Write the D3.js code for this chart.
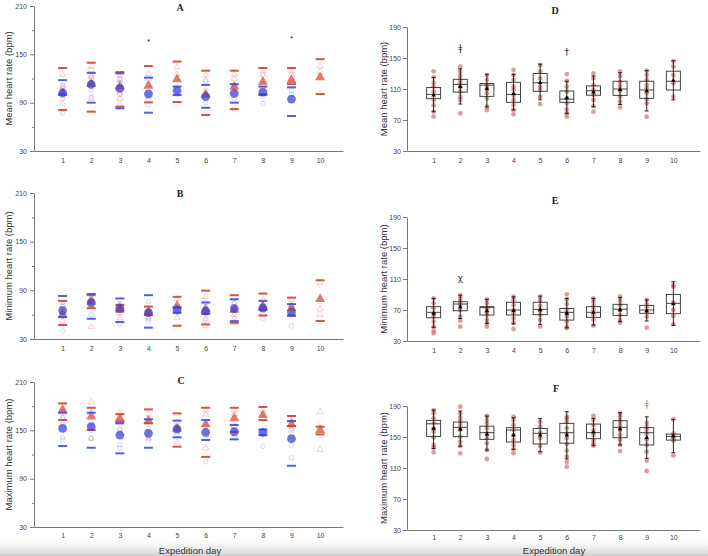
<!DOCTYPE html>
<html>
<head>
<meta charset="utf-8">
<script src="https://cdn.jsdelivr.net/npm/d3@7"></script>
<style>
body{margin:0;background:#fff;}
svg{display:block;font-family:"Liberation Sans",Arial,sans-serif;}
.axis text{font-size:7px;fill:#444;}
.axis path,.axis line{stroke:#555;stroke-width:0.8;}
.ylab{font-size:9.5px;fill:#333;}
.ttl{font-family:"Liberation Serif","Times New Roman",serif;font-weight:bold;font-size:10px;fill:#222;}
</style>
</head>
<body>
<svg id="chart" width="708" height="556"></svg>
<script>
// ---- data ----
const days = [1,2,3,4,5,6,7,8,9,10];
const leftTicks = [30, 90, 150, 210];
const leftMinor = [60, 120, 180];
const rightTicks = [30, 70, 110, 150, 190];

// A: mean heart rate, two groups
const aBlueMean = [102, 112.8, 107.8, 101, 104.8, 97.4, 101.6, 103, 94.5, null];
const aBlueHi   = [118, 127, 126.4, 121, 110, 112, 113, 110, 109, null];
const aBlueLo   = [100, 90, 83, 77.6, 99.5, 83.7, 90, 100, 73.4, null];
const aRedMean  = [102, 113, 110, 111, 119, 100, 110, 116, 118, 121.5];
const aRedHi    = [133, 139.6, 128, 135.5, 141, 129.7, 129.7, 133, 133, 144];
const aRedLo    = [81, 78.8, 85, 90.4, 90.8, 74.7, 82, 100, 113, 100.7];
const aBluePts  = [[77,95,108,112],[97,105,120,124],[88,100,115,120],[87,94,113],[100,108],[90,105,116],[82,95,108],[89,98,107],[100,105],[]];
const aRedPts   = [[89,110,125],[95,122,131,135],[95,102,118,124],[98,120,126],[125,134],[100,118,124],[110,120,125],[112,125,129],[120,125,129],[128,135]];
const aStars    = [[4,166],[9,170]];

// B: minimum heart rate
const bBlueMean = [65, 74.8, 67.8, 62.4, 65.8, 64.5, 67.4, 68.2, 63.3, null];
const bBlueHi   = [83, 85.5, 80, 84, 69, 75, 79, 77, 73, null];
const bBlueLo   = [57, 55, 51, 44, 62.4, 61, 52, 65.8, 58.8, null];
const bRedMean  = [60.5, 76, 68, 63, 71, 66, 66, 70, 68, 79.3];
const bRedHi    = [77, 84, 72, 70, 82, 89.6, 84, 86, 81, 102.4];
const bRedLo    = [47.3, 68, 63.7, 59.6, 46.4, 48, 50, 59, 58.8, 52.2];
const bBluePts  = [[40,58,70,75],[60,70,80],[48,65,74],[52,55,76],[63,68],[55,70,75],[55,62,75],[55,72],[46,60,70],[]];
const bRedPts   = [[52,58,72],[45,72,80],[56,62,72],[57,64,67],[56,79],[46,53,82],[50,60,74],[62,72,78],[62,72,78],[60,67,99]];

// C: maximum heart rate
const cBlueMean = [152.5, 154.5, 144, 146.3, 151.6, 147.5, 148, 147.5, 139.6, null];
const cBlueHi   = [171.9, 171.9, 158.7, 163.7, 162, 162.8, 156.6, 151, 161.6, null];
const cBlueLo   = [130.5, 128.4, 121.4, 128.4, 141.3, 138, 138.8, 144, 106, null];
const cRedMean  = [175, 167, 165, 161.6, 152, 157.5, 165, 169, 157.5, 150.4];
const cRedHi    = [183.5, 178, 170, 176, 171, 178, 178, 179, 167.8, 154.5];
const cRedLo    = [162.8, 150.4, 160.7, 158.7, 129.7, 117, 148, 162.8, 155.4, 145];
const cBluePts  = [[138,141,158,166],[140,150,160],[128,132,150,152],[138,142,152],[145,155],[111,140,155],[142,150,155],[130,148],[116,131,152],[]];
const cRedPts   = [[165,172,178],[140,172,185],[160,172],[140,165,170],[135,160],[128,170,175],[155,170,175],[165,175],[150,162],[126,173]];

// D: mean heart rate, box plots
const dQ1   = [97.5, 106, 100.5, 92.8, 107, 92.8, 102, 101.8, 98, 108.7];
const dMed  = [103, 116, 115, 103, 118, 97, 107.8, 110, 108.7, 120];
const dQ3   = [112, 122.5, 117, 118.6, 130, 107.4, 114, 120, 120, 133];
const dWlo  = [80.7, 90.6, 87, 83, 96, 78.6, 87, 90, 81.6, 96];
const dWhi  = [125, 136, 129, 129, 142, 120, 126.8, 131, 133.6, 146.5];
const dMean = [102, 113, 110, 104, 118, 98.5, 106, 109, 107.6, 121];
const dDots = [
  [132.8,125,118.2,113,106.5,95.8,89,80.7,74.3],
  [138.8,132.3,126.8,121.6,117.3,112.1,106.5,100.1,95.8,78.6],
  [128,121.6,115.1,110.8,104.4,97.9,87.2,82.9],
  [134.5,128,121.6,113,108.7,102.2,95.8,89.3,82.9,77.3],
  [141,132.3,123.7,113,108.7,100.1,90.6],
  [129.3,120.3,113,106.5,97.9,91.5,83.8,78.6,74.3],
  [130.2,123.7,115.1,108.7,102.2,95.8,88,80.7],
  [132.8,126.8,119.4,113.8,107.8,100.1,93.6,86.3],
  [133.6,128,121.6,115.1,110.8,104.4,97.1,91.5,74.3],
  [145.5,139,128,117.3,100.1]
];
const dMarks = [[2,163,"ǂ"],[6,158,"†"]];

// E: minimum heart rate, box plots
const eQ1   = [60, 69, 63.5, 63.5, 64, 57, 60.5, 63, 65.7, 65.3];
const eMed  = [67, 77.7, 73, 70, 70.9, 67, 67, 71, 70, 78.6];
const eQ3   = [74.3, 80.7, 74.3, 80, 80, 72, 74.3, 77.3, 76, 90];
const eWlo  = [47.6, 59, 52.8, 52, 51.5, 47, 50.6, 55, 55.8, 50];
const eWhi  = [85, 89, 83.8, 87, 88, 85, 85, 86.3, 83, 106.5];
const eMean = [65.7, 74, 68.7, 69, 70, 65.7, 67, 70, 68.7, 77.7];
const eDots = [
  [85,78.6,72.1,65.7,61.4,54.9,48.5,43.3,39.9],
  [89.3,85,80.7,76.4,70,61.4,56.2,48.5],
  [83.8,78.6,72.1,67.8,63.5,57.1,52.8,48.5],
  [87.2,82.9,76.4,70,65.7,59.2,53.7,45.5],
  [87.2,82,75.2,69.1,63.5,57.1,48.5],
  [90.2,83.8,77.7,70.9,65.7,61.4,54.9,48.5,46.3],
  [85,80.7,75.2,70,63.5,57.1,49.8],
  [87.2,82,76.4,70,63.5,57.1,53.7],
  [82.9,77.7,73.4,67.8,61.4,47.2],
  [102.2,100.1,79.5,70,62.3,51.9]
];
const eMarks = [[2,111,"χ"]];

// F: maximum heart rate, box plots
const fQ1   = [150.8, 150.4, 147, 143.5, 141, 142, 147.8, 149, 139.7, 146];
const fMed  = [167, 162.4, 155.6, 159, 154.7, 155.6, 155.6, 162.4, 155.6, 150.8];
const fQ3   = [171.5, 169.3, 164, 162, 161, 167.6, 166.7, 171, 162, 153.8];
const fWlo  = [135, 138, 133, 134, 131, 121.6, 138.8, 139.7, 122.5, 129.8];
const fWhi  = [184.8, 183.5, 177, 175, 174, 182.6, 174, 181.4, 176, 172.8];
const fMean = [161, 160, 153.4, 152.5, 152.5, 152.5, 156.4, 160.3, 149, 151];
const fDots = [
  [184.8,180.5,174.1,167.6,161.2,156.9,149.5,139.7,136.6,130.2],
  [189.1,180.5,175.3,170.6,165.5,159,150.4,144,138.4,128.9],
  [177.1,171.9,167.6,161.2,154.7,148.3,141.8,133.2,121.6],
  [176.2,171.9,165.5,159,152.6,146.1,139.7,134.1,128.9],
  [169.8,163.3,155.6,148.3,138.4,129.8],
  [176.2,174.1,169.8,161.2,154.7,148.3,140.9,132.3,124.6,117.7,111.7],
  [177.1,171.9,165.5,159,152.6,146.1,141.8,138.8],
  [180.5,176.2,171,165.5,159,152.6,146.1,139.7,131.9],
  [168.5,163.3,159,153.8,146.9,139.7,131,119.4,106.1],
  [172.8,154.7,151.3,148.3,145.2,126.3]
];
const fMarks = [[9,192,"ǂ"]];

// ---- drawing ----
const svg = d3.select("#chart");
const BLUE = "#3b4fe6", RED = "#d4402e";

const grad = svg.append("defs").append("linearGradient")
  .attr("id","shade").attr("x1",0).attr("y1",0).attr("x2",0).attr("y2",1);
grad.append("stop").attr("offset","0%").attr("stop-color","#fff").attr("stop-opacity",0);
grad.append("stop").attr("offset","100%").attr("stop-color","#cfcfcf").attr("stop-opacity",1);
svg.append("rect").attr("x",0).attr("y",536).attr("width",708).attr("height",20).attr("fill","url(#shade)");

function frame(o, x, y, ticks, minor, padY){
  const g = svg.append("g");
  if (minor) {
    g.append("g").attr("class","axis").attr("transform",`translate(${o.left},0)`)
      .call(d3.axisLeft(y).tickValues(minor).tickSize(2).tickFormat(""))
      .select(".domain").remove();
  }
  g.append("g").attr("class","axis").attr("transform",`translate(${o.left},0)`)
    .call(d3.axisLeft(y).tickValues(ticks).tickSize(4).tickSizeOuter(0).tickPadding(padY));
  g.append("g").attr("class","axis").attr("transform",`translate(0,${o.bottom})`)
    .call(d3.axisBottom(x).tickValues(days).tickSize(0).tickSizeOuter(0).tickPadding(o.padX || 7));
  svg.append("text").attr("class","ttl").attr("x",o.titleX).attr("y",o.titleY)
    .attr("text-anchor","middle").text(o.title);
  svg.append("text").attr("class","ylab")
    .attr("transform",`translate(${o.labX},${(o.top+o.bottom)/2}) rotate(-90)`)
    .attr("text-anchor","middle").text(o.label);
  if (o.xlab) {
    svg.append("text").attr("x",o.xlabX).attr("y",553.5).attr("text-anchor","middle")
      .attr("font-size","9.5px").attr("fill","#333").text("Expedition day");
  }
  return g;
}

function drawLeft(o){
  const x = d3.scaleLinear().domain([0,10.8]).range([34,343]);
  const y = d3.scaleLinear().domain([30,210]).range([o.bottom,o.top]);
  o.left = 34;
  const g = frame(o, x, y, leftTicks, leftMinor, 3);
  const tri = d3.symbol().type(d3.symbolTriangle);

  days.forEach((d,i)=>{
    // individual points
    o.bluePts[i].forEach(v=>{
      g.append("circle").attr("cx",x(d)).attr("cy",y(v)).attr("r",2.3)
        .attr("fill","none").attr("stroke",BLUE).attr("stroke-opacity",0.28).attr("stroke-width",0.8);
    });
    o.redPts[i].forEach(v=>{
      g.append("path").attr("d",tri.size(16)()).attr("transform",`translate(${x(d)},${y(v)})`)
        .attr("fill","none").attr("stroke",RED).attr("stroke-opacity",0.3).attr("stroke-width",0.8);
    });
    // red group
    [o.redHi[i], o.redLo[i]].forEach(v=>{
      g.append("rect").attr("x",x(d)-4.5).attr("y",y(v)-1).attr("width",9).attr("height",2)
        .attr("fill",RED).attr("fill-opacity",0.9);
    });
    g.append("path").attr("d",tri.size(44)()).attr("transform",`translate(${x(d)},${y(o.redMean[i])})`)
      .attr("fill",RED).attr("fill-opacity",0.7);
    // blue group
    if (o.blueMean[i] != null) {
      [o.blueHi[i], o.blueLo[i]].forEach(v=>{
        g.append("rect").attr("x",x(d)-4.5).attr("y",y(v)-1).attr("width",9).attr("height",2)
          .attr("fill",BLUE).attr("fill-opacity",0.9);
      });
      g.append("circle").attr("cx",x(d)).attr("cy",y(o.blueMean[i])).attr("r",4.4)
        .attr("fill","#3a3ccf").attr("fill-opacity",0.72);
    }
  });
  (o.stars||[]).forEach(s=>{
    g.append("text").attr("x",x(s[0])).attr("y",y(s[1])+3).attr("text-anchor","middle")
      .attr("font-size","8px").attr("fill","#222").text("*");
  });
}

function drawRight(o){
  const x = d3.scaleLinear().domain([0,11]).range([407,700]);
  const y = d3.scaleLinear().domain([30,190]).range([o.bottom,o.top]);
  o.left = 407;
  const g = frame(o, x, y, rightTicks, null, 2);
  const tri = d3.symbol().type(d3.symbolTriangle).size(9);
  days.forEach((d,i)=>{
    const cx = x(d);
    o.dots[i].forEach(v=>{
      g.append("circle").attr("cx",cx).attr("cy",y(v)).attr("r",2.4)
        .attr("fill","#c44a50").attr("fill-opacity",0.55);
    });
    g.append("rect").attr("x",cx-7).attr("y",y(o.q3[i])).attr("width",14)
      .attr("height",y(o.q1[i])-y(o.q3[i])).attr("fill","none").attr("stroke","#333").attr("stroke-width",0.9);
    g.append("line").attr("x1",cx-7).attr("x2",cx+7).attr("y1",y(o.med[i])).attr("y2",y(o.med[i]))
      .attr("stroke","#333").attr("stroke-width",0.9);
    g.append("line").attr("x1",cx).attr("x2",cx).attr("y1",y(o.whi[i])).attr("y2",y(o.wlo[i]))
      .attr("stroke","#111").attr("stroke-width",0.9);
    [o.whi[i], o.wlo[i]].forEach(v=>{
      g.append("line").attr("x1",cx-2).attr("x2",cx+2).attr("y1",y(v)).attr("y2",y(v))
        .attr("stroke","#111").attr("stroke-width",0.9);
    });
    g.append("path").attr("d",tri()).attr("transform",`translate(${cx},${y(o.mean[i])})`).attr("fill","#000");
  });
  (o.marks||[]).forEach(m=>{
    g.append("text").attr("x",x(m[0])).attr("y",y(m[1])+3).attr("text-anchor","middle")
      .attr("font-family","DejaVu Sans").attr("font-size","9px").attr("fill",o.markColor).text(m[2]);
  });
}

drawLeft({top:6, bottom:151, title:"A", titleX:180, titleY:11, labX:12, label:"Mean heart rate (bpm)",
  blueMean:aBlueMean, blueHi:aBlueHi, blueLo:aBlueLo, redMean:aRedMean, redHi:aRedHi, redLo:aRedLo,
  bluePts:aBluePts, redPts:aRedPts, stars:aStars});
drawLeft({top:193, bottom:339, title:"B", titleX:180, titleY:197, labX:12, label:"Minimum heart rate (bpm)",
  blueMean:bBlueMean, blueHi:bBlueHi, blueLo:bBlueLo, redMean:bRedMean, redHi:bRedHi, redLo:bRedLo,
  bluePts:bBluePts, redPts:bRedPts});
drawLeft({top:382, bottom:527, title:"C", titleX:181, titleY:384, labX:12, label:"Maximum heart rate (bpm)",
  blueMean:cBlueMean, blueHi:cBlueHi, blueLo:cBlueLo, redMean:cRedMean, redHi:cRedHi, redLo:cRedLo,
  bluePts:cBluePts, redPts:cRedPts, xlab:true, xlabX:190, padX:6});

drawRight({top:27, bottom:151, title:"D", titleX:555, titleY:14, labX:387, label:"Mean heart rate (bpm)",
  q1:dQ1, med:dMed, q3:dQ3, wlo:dWlo, whi:dWhi, mean:dMean, dots:dDots, marks:dMarks, markColor:"#223"});
drawRight({top:217, bottom:341, title:"E", titleX:555, titleY:204, labX:387, label:"Minimum heart rate (bpm)",
  q1:eQ1, med:eMed, q3:eQ3, wlo:eWlo, whi:eWhi, mean:eMean, dots:eDots, marks:eMarks, markColor:"#333"});
drawRight({top:406, bottom:530, title:"F", titleX:556, titleY:392, labX:387, label:"Maximum heart rate (bpm)",
  q1:fQ1, med:fMed, q3:fQ3, wlo:fWlo, whi:fWhi, mean:fMean, dots:fDots, marks:fMarks, markColor:"#888",
  xlab:true, xlabX:554, padX:5});
</script>
</body>
</html>
